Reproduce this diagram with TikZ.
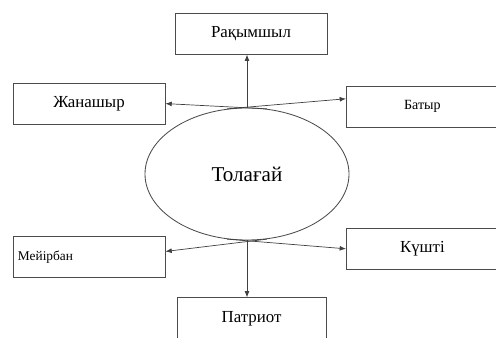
\documentclass[tikz,border=0pt]{standalone}
\usepackage{fontspec}
\setmainfont{Liberation Serif}
\usetikzlibrary{shapes.geometric, arrows.meta, positioning}

\begin{document}
\begin{tikzpicture}[scale=1.0,
      box/.style={draw=black!70, line width=0.6pt, minimum width=3.8cm,
         minimum height=1.03cm, inner sep=0pt, font=\fontsize{12}{14}\selectfont},
      arr/.style={-{Latex[length=4.5pt,width=3.5pt]}, black!75, line width=0.5pt}]
            \useasboundingbox (0,0) rectangle (12.4,8.45);
            % Centre
            \node[ellipse, draw=black!70, line width=0.6pt, minimum width=5.1cm,
               minimum height=3.3cm, inner sep=0pt, font=\fontsize{15}{18}\selectfont]
               (tolagai) at (6.175,4.1) {Толағай};
            % Boxes round it
            \node[box] (rakym) at (6.275,7.61) {Рақымшыл};
            \node[box] (zhan) at (2.225,5.86) {Жанашыр};
            \node[box, font=\fontsize{10}{12}\selectfont] (batyr) at (10.56,5.78) {Батыр};
            \node[box, font=\fontsize{9.5}{11}\selectfont, align=left, text width=3.55cm,
               inner xsep=0.125cm] (meir) at (2.225,2.03) {Мейірбан};
            \node[box] (kushti) at (10.56,2.23) {Күшті};
            \node[box, minimum width=3.73cm] (patriot) at (6.29,0.49) {Патриот};
            % Up and down
            \draw[arr] (tolagai.north) -- (tolagai.north |- rakym.south);
            \draw[arr] (tolagai.south) -- (tolagai.south |- patriot.north);
            % Crossed arrows at the top
            \draw[arr] (tolagai.73) -- (zhan.east);
            \draw[arr] (tolagai.107) -- (batyr.174);
            % Crossed arrows at the bottom
            \draw[arr] (tolagai.-73) -- (meir.4);
            \draw[arr] (tolagai.-107) -- (kushti.west);
         \end{tikzpicture}
\end{document}
